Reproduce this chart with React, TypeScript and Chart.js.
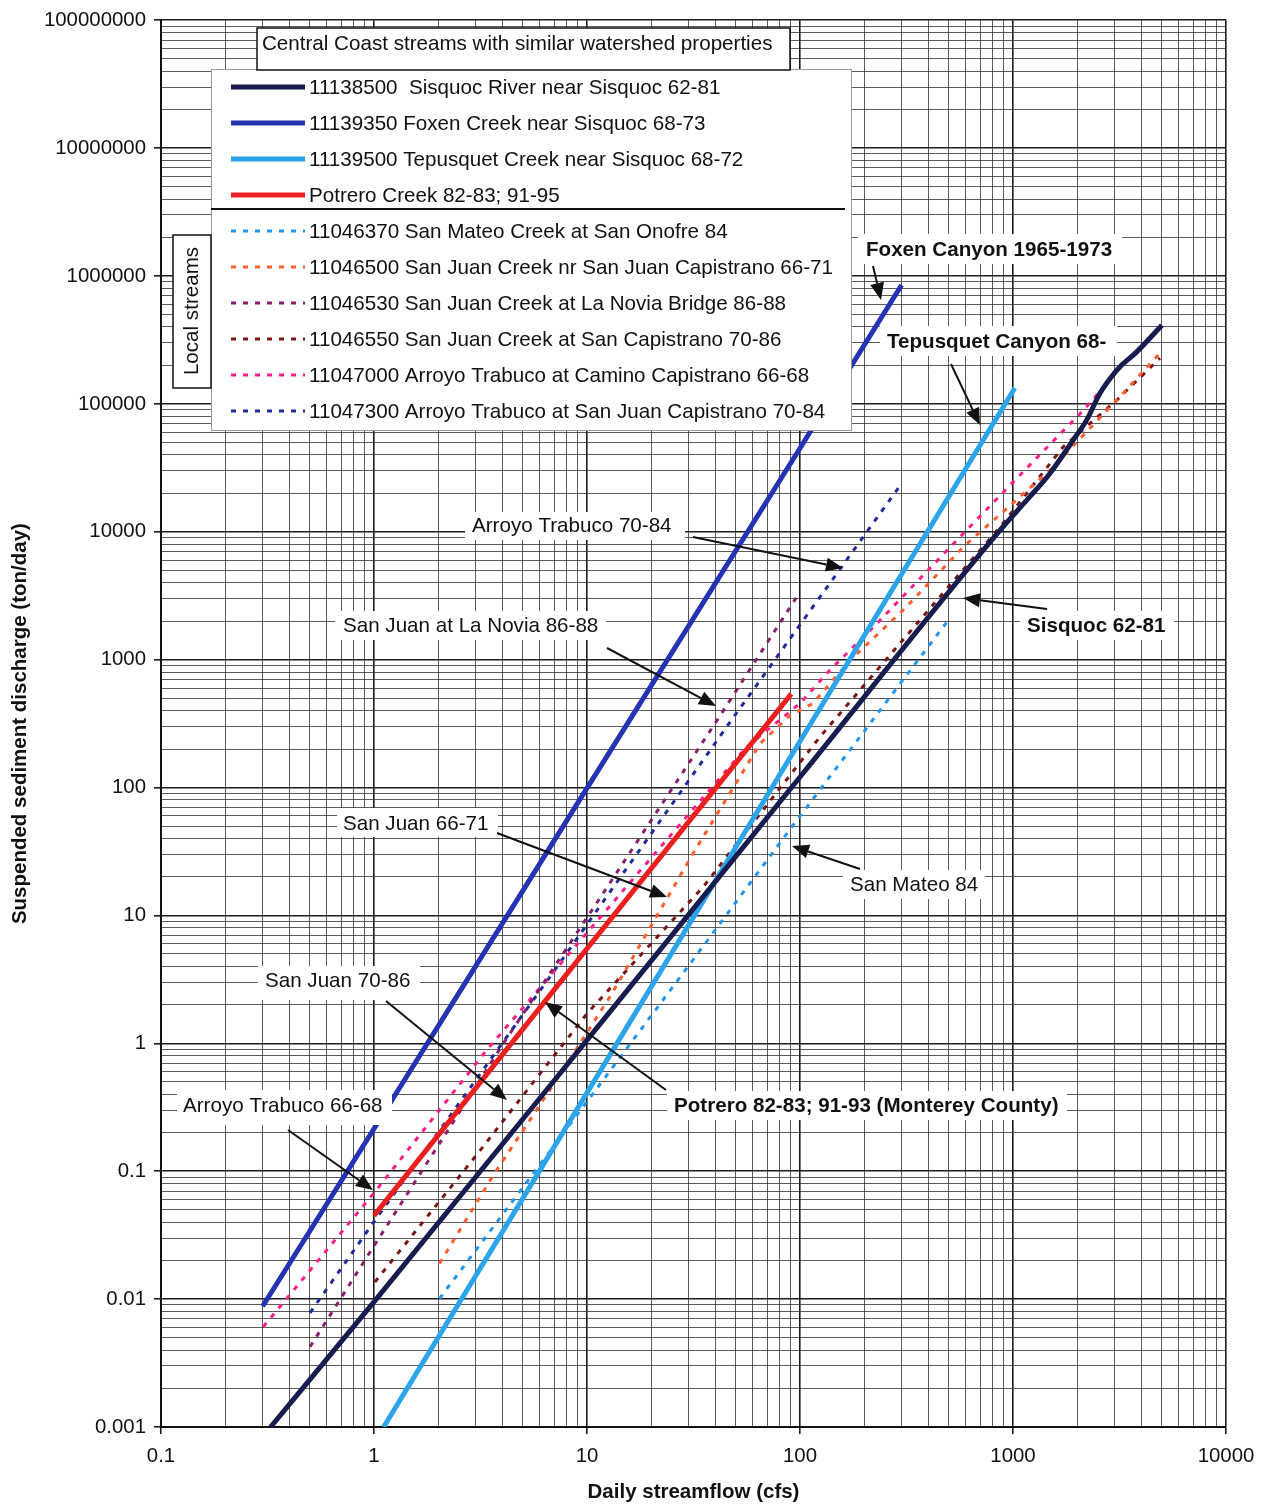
import React, { useEffect, useRef } from 'react';
import { Chart, registerables } from 'chart.js';

Chart.register(...registerables);

// ---------------- data ----------------
// 11138500 Sisquoc River near Sisquoc 62-81
const sisquocFlow = [0.327, 1, 10, 100, 870, 1200, 1490, 1960, 2220, 2560, 2900, 3180, 3810, 5000];
const sisquocLoad = [0.001, 0.0095, 1.06, 121, 10300, 18800, 28600, 55000, 75000, 121000, 163000, 195000, 255000, 412000];
// 11139350 Foxen Creek near Sisquoc 68-73
const foxenFlow = [0.3, 1, 10, 100, 300];
const foxenLoad = [0.0088, 0.215, 99, 45000, 850000];
// 11139500 Tepusquet Creek near Sisquoc 68-72
const tepusquetFlow = [1.11, 10, 100, 1020];
const tepusquetLoad = [0.001, 0.41, 230, 133000];
// Potrero Creek 82-83; 91-95
const potreroFlow = [1, 10, 91];
const potreroLoad = [0.045, 5.5, 540];
// 11046370 San Mateo Creek at San Onofre 84
const sanMateoFlow = [2.03, 3.84, 30.5, 93, 497];
const sanMateoLoad = [0.0101, 0.0415, 4.2, 51, 2040];
// 11046500 San Juan Creek nr San Juan Capistrano 66-71
const sanJuan6671Flow = [2.03, 3.63, 7.2, 12.8, 31.5, 65, 90, 115, 172, 305, 585, 1490, 3070, 4900];
const sanJuan6671Load = [0.019, 0.093, 0.52, 2.3, 30.6, 221, 368, 455, 990, 2440, 7620, 30300, 107000, 250000];
// 11046530 San Juan Creek at La Novia Bridge 86-88
const laNoviaFlow = [0.501, 0.993, 4.05, 11.9, 39.9, 96.6];
const laNoviaLoad = [0.00424, 0.0256, 0.998, 14.9, 317, 3100];
// 11046550 San Juan Creek at San Capistrano 70-86
const sanJuan7086Flow = [1.01, 3.03, 10, 35.2, 124, 545, 870, 1720, 3070, 4900];
const sanJuan7086Load = [0.0136, 0.134, 1.71, 16.8, 249, 4430, 10900, 46100, 107000, 228000];
// 11047000 Arroyo Trabuco at Camino Capistrano 66-68
const trabuco6668Flow = [0.302, 1.01, 3.38, 18.4, 56.2, 100, 138, 238, 545, 968, 2140, 2850];
const trabuco6668Load = [0.00607, 0.069, 0.885, 24, 208, 455, 828, 2040, 8590, 23100, 89300, 153000];
// 11047300 Arroyo Trabuco at San Juan Capistrano 70-84
const trabuco7084Flow = [0.501, 1, 6.7, 45.3, 300];
const trabuco7084Load = [0.00782, 0.0403, 3.31, 299, 23900];

const xTickLabels = ['0.1', '1', '10', '100', '1000', '10000'];
const yTickLabels = ['0.001', '0.01', '0.1', '1', '10', '100', '1000', '10000', '100000', '1000000', '10000000', '100000000'];

const xTitle = 'Daily streamflow (cfs)';
const yTitle = 'Suspended sediment discharge (ton/day)';
const legendTitle = 'Central Coast streams with similar watershed properties';
const localLabel = 'Local streams';

const FONT = '"Liberation Sans", Arial, sans-serif';
const TEXT_SIZE = 20.6;

type Series = { label: string; flow: number[]; load: number[]; color: string; dotted: boolean };

const series: Series[] = [
  { label: '11138500  Sisquoc River near Sisquoc 62-81', flow: sisquocFlow, load: sisquocLoad, color: '#171c4f', dotted: false },
  { label: '11139350 Foxen Creek near Sisquoc 68-73', flow: foxenFlow, load: foxenLoad, color: '#2432b4', dotted: false },
  { label: '11139500 Tepusquet Creek near Sisquoc 68-72', flow: tepusquetFlow, load: tepusquetLoad, color: '#2ba4ec', dotted: false },
  { label: 'Potrero Creek 82-83; 91-95', flow: potreroFlow, load: potreroLoad, color: '#ec1f1f', dotted: false },
  { label: '11046370 San Mateo Creek at San Onofre 84', flow: sanMateoFlow, load: sanMateoLoad, color: '#2196f0', dotted: true },
  { label: '11046500 San Juan Creek nr San Juan Capistrano 66-71', flow: sanJuan6671Flow, load: sanJuan6671Load, color: '#ff5f2e', dotted: true },
  { label: '11046530 San Juan Creek at La Novia Bridge 86-88', flow: laNoviaFlow, load: laNoviaLoad, color: '#8a1d6c', dotted: true },
  { label: '11046550 San Juan Creek at San Capistrano 70-86', flow: sanJuan7086Flow, load: sanJuan7086Load, color: '#7a1515', dotted: true },
  { label: '11047000 Arroyo Trabuco at Camino Capistrano 66-68', flow: trabuco6668Flow, load: trabuco6668Load, color: '#ff1e88', dotted: true },
  { label: '11047300 Arroyo Trabuco at San Juan Capistrano 70-84', flow: trabuco7084Flow, load: trabuco7084Load, color: '#1f2a9c', dotted: true },
];

// annotation callouts (canvas pixel layout)
type Note = { text: string; bold: boolean; tx: number; ty: number; box: number[]; arrow: number[] };
const notes: Note[] = [
  { text: 'Foxen Canyon 1965-1973', bold: true, tx: 866, ty: 249, box: [858, 234, 1122, 264], arrow: [873, 266, 881, 300] },
  { text: 'Tepusquet Canyon 68-', bold: true, tx: 887, ty: 341, box: [880, 326, 1117, 356], arrow: [951, 364, 980, 425] },
  { text: 'Arroyo Trabuco 70-84', bold: false, tx: 472, ty: 525, box: [465, 512, 685, 540], arrow: [693, 537, 843, 568] },
  { text: 'San Juan at La Novia 86-88', bold: false, tx: 343, ty: 625, box: [335, 611, 606, 640], arrow: [607, 648, 716, 706] },
  { text: 'Sisquoc 62-81', bold: true, tx: 1027, ty: 625, box: [1020, 611, 1174, 640], arrow: [1047, 609, 963, 598] },
  { text: 'San Juan 66-71', bold: false, tx: 343, ty: 823, box: [337, 808, 498, 837], arrow: [497, 833, 667, 897] },
  { text: 'San Mateo 84', bold: false, tx: 850, ty: 884, box: [843, 870, 985, 899], arrow: [860, 869, 792, 846] },
  { text: 'San Juan 70-86', bold: false, tx: 265, ty: 980, box: [258, 966, 420, 1000], arrow: [386, 1001, 507, 1100] },
  { text: 'Potrero 82-83; 91-93 (Monterey County)', bold: true, tx: 674, ty: 1105, box: [667, 1091, 1067, 1120], arrow: [666, 1090, 545, 1002] },
  { text: 'Arroyo Trabuco 66-68', bold: false, tx: 183, ty: 1105, box: [177, 1090, 392, 1125], arrow: [288, 1130, 373, 1190] },
];

function decadeTicks(minExp: number, maxExp: number) {
  const t: { value: number; major: boolean }[] = [];
  for (let e = minExp; e <= maxExp; e++) {
    for (let s = 1; s <= 9; s++) {
      if (e === maxExp && s > 1) break;
      t.push({ value: Number((s * Math.pow(10, e)).toPrecision(6)), major: s === 1 });
    }
  }
  return t;
}

function decadeIndex(v: number, minExp: number): number {
  const e = Math.log10(v);
  const r = Math.round(e);
  if (Math.abs(e - r) < 1e-6) return r - minExp;
  return -1;
}

function drawArrow(ctx: CanvasRenderingContext2D, x0: number, y0: number, x1: number, y1: number) {
  const ang = Math.atan2(y1 - y0, x1 - x0);
  const hl = 17;
  const hw = 7;
  const bx = x1 - hl * Math.cos(ang);
  const by = y1 - hl * Math.sin(ang);
  ctx.save();
  ctx.strokeStyle = '#111';
  ctx.fillStyle = '#111';
  ctx.lineWidth = 2;
  ctx.beginPath();
  ctx.moveTo(x0, y0);
  ctx.lineTo(bx, by);
  ctx.stroke();
  ctx.beginPath();
  ctx.moveTo(x1, y1);
  ctx.lineTo(bx + hw * Math.sin(ang), by - hw * Math.cos(ang));
  ctx.lineTo(bx - hw * Math.sin(ang), by + hw * Math.cos(ang));
  ctx.closePath();
  ctx.fill();
  ctx.restore();
}

const overlayPlugin = {
  id: 'overlay',
  afterDatasetsDraw(chart: any) {
    const ctx: CanvasRenderingContext2D = chart.ctx;
    ctx.save();
    // callouts
    for (const n of notes) {
      ctx.fillStyle = '#ffffff';
      ctx.fillRect(n.box[0], n.box[1], n.box[2] - n.box[0], n.box[3] - n.box[1]);
    }
    for (const n of notes) {
      ctx.fillStyle = '#111';
      ctx.font = `${n.bold ? 'bold ' : ''}${TEXT_SIZE}px ${FONT}`;
      ctx.textAlign = 'left';
      ctx.textBaseline = 'middle';
      ctx.fillText(n.text, n.tx, n.ty + 1);
      drawArrow(ctx, n.arrow[0], n.arrow[1], n.arrow[2], n.arrow[3]);
    }

    // legend box
    const L = { x0: 211, y0: 69, x1: 851, y1: 430 };
    ctx.fillStyle = '#ffffff';
    ctx.fillRect(L.x0, L.y0, L.x1 - L.x0, L.y1 - L.y0);
    ctx.strokeStyle = '#9a9a9a';
    ctx.lineWidth = 1;
    ctx.strokeRect(L.x0 + 0.5, L.y0 + 0.5, L.x1 - L.x0, L.y1 - L.y0);

    const datasets = chart.data.datasets;
    datasets.forEach((ds: any, i: number) => {
      const y = 87 + 36 * i;
      ctx.save();
      ctx.strokeStyle = ds.borderColor;
      if (ds.borderDash && ds.borderDash.length) {
        ctx.setLineDash([5, 7]);
        ctx.lineWidth = 3;
      } else {
        ctx.lineWidth = 5;
      }
      ctx.beginPath();
      ctx.moveTo(231, y);
      ctx.lineTo(305, y);
      ctx.stroke();
      ctx.restore();
      ctx.fillStyle = '#111';
      ctx.font = `${TEXT_SIZE}px ${FONT}`;
      ctx.textAlign = 'left';
      ctx.textBaseline = 'middle';
      ctx.fillText(ds.label, 309, y + 1);
    });
    // separator between regional and local streams
    ctx.strokeStyle = '#111';
    ctx.lineWidth = 2;
    ctx.beginPath();
    ctx.moveTo(211, 209);
    ctx.lineTo(845, 209);
    ctx.stroke();

    // title box
    ctx.fillStyle = '#ffffff';
    ctx.fillRect(257, 28, 533, 42);
    ctx.strokeStyle = '#111';
    ctx.lineWidth = 1.5;
    ctx.strokeRect(257, 28, 533, 42);
    ctx.fillStyle = '#111';
    ctx.font = `${TEXT_SIZE}px ${FONT}`;
    ctx.textBaseline = 'middle';
    ctx.fillText(legendTitle, 262, 44);

    // local streams box
    ctx.fillStyle = '#ffffff';
    ctx.fillRect(173, 235, 38, 153);
    ctx.strokeStyle = '#111';
    ctx.lineWidth = 1.5;
    ctx.strokeRect(173, 235, 38, 153);
    ctx.save();
    ctx.translate(192, 311);
    ctx.rotate(-Math.PI / 2);
    ctx.fillStyle = '#111';
    ctx.textAlign = 'center';
    ctx.textBaseline = 'middle';
    ctx.font = `${TEXT_SIZE}px ${FONT}`;
    ctx.fillText(localLabel, 0, 0);
    ctx.restore();

    ctx.restore();
  },
};

const whiteBg = {
  id: 'whiteBg',
  beforeDraw(chart: any) {
    const ctx = chart.ctx;
    ctx.save();
    ctx.fillStyle = '#ffffff';
    ctx.fillRect(0, 0, chart.width, chart.height);
    ctx.restore();
  },
};

export default function App() {
  const ref = useRef<HTMLCanvasElement | null>(null);

  useEffect(() => {
    if (!ref.current) return;
    const xTicks = decadeTicks(-1, 4);
    const yTicks = decadeTicks(-3, 8);

    const datasets = series.map((s) => ({
      label: s.label,
      data: s.flow.map((x, i) => ({ x, y: s.load[i] })),
      borderColor: s.color,
      backgroundColor: s.color,
      borderWidth: s.dotted ? 3 : 5,
      borderDash: s.dotted ? [5, 7] : [],
      borderCapStyle: 'butt',
      pointRadius: 0,
      fill: false,
      tension: 0,
      cubicInterpolationMode: s === series[0] ? 'monotone' : 'default',
    }));

    const gridColor = (minExp: number) => (c: any) =>
      c.tick && decadeIndex(c.tick.value, minExp) >= 0 ? '#1c1c1c' : 'rgba(50,50,50,0.8)';
    const gridWidth = (minExp: number) => (c: any) =>
      c.tick && decadeIndex(c.tick.value, minExp) >= 0 ? 1.6 : 1;
    const tickColor = (minExp: number) => (c: any) =>
      c.tick && decadeIndex(c.tick.value, minExp) >= 0 ? '#1c1c1c' : 'rgba(0,0,0,0)';

    const chart = new Chart(ref.current, {
      type: 'line',
      data: { datasets: datasets as any },
      plugins: [whiteBg, overlayPlugin],
      options: {
        responsive: false,
        animation: false,
        devicePixelRatio: 1,
        layout: { padding: { top: 20, right: 40, left: 0, bottom: 0 } },
        plugins: {
          legend: { display: false },
          tooltip: { enabled: false },
        },
        font: { family: FONT },
        scales: {
          x: {
            type: 'logarithmic',
            min: 0.1,
            max: 10000,
            afterBuildTicks: (scale: any) => {
              scale.ticks = xTicks.map((t) => ({ ...t }));
            },
            afterFit: (scale: any) => {
              scale.height = 78;
            },
            ticks: {
              autoSkip: false,
              maxRotation: 0,
              minRotation: 0,
              padding: 10,
              color: '#111',
              font: { family: FONT, size: 20.4 },
              callback: (v: any) => {
                const i = decadeIndex(Number(v), -1);
                return i >= 0 ? xTickLabels[i] : '';
              },
            },
            grid: {
              color: gridColor(-1),
              lineWidth: gridWidth(-1),
              tickColor: tickColor(-1),
              tickLength: 7,
            },
            border: { color: '#111', width: 2 },
            title: {
              display: true,
              text: xTitle,
              color: '#111',
              font: { family: FONT, size: 20.5, weight: 'bold' },
              padding: { top: 0, bottom: 0 },
            },
          },
          y: {
            type: 'logarithmic',
            min: 0.001,
            max: 100000000,
            afterBuildTicks: (scale: any) => {
              scale.ticks = yTicks.map((t) => ({ ...t }));
            },
            afterFit: (scale: any) => {
              scale.width = 161;
            },
            ticks: {
              autoSkip: false,
              padding: 8,
              color: '#111',
              font: { family: FONT, size: 20.4 },
              callback: (v: any) => {
                const i = decadeIndex(Number(v), -3);
                return i >= 0 ? yTickLabels[i] : '';
              },
            },
            grid: {
              color: gridColor(-3),
              lineWidth: gridWidth(-3),
              tickColor: tickColor(-3),
              tickLength: 7,
            },
            border: { color: '#111', width: 2 },
            title: {
              display: true,
              text: yTitle,
              color: '#111',
              font: { family: FONT, size: 20.5, weight: 'bold' },
              padding: { top: 8, bottom: 0 },
            },
          },
        },
      } as any,
    });
    return () => chart.destroy();
  }, []);

  return (
    <div style={{ position: 'absolute', left: 0, top: 0, width: 1266, height: 1505 }}>
      <canvas ref={ref} width={1266} height={1505} style={{ display: 'block', width: 1266, height: 1505 }} />
    </div>
  );
}
